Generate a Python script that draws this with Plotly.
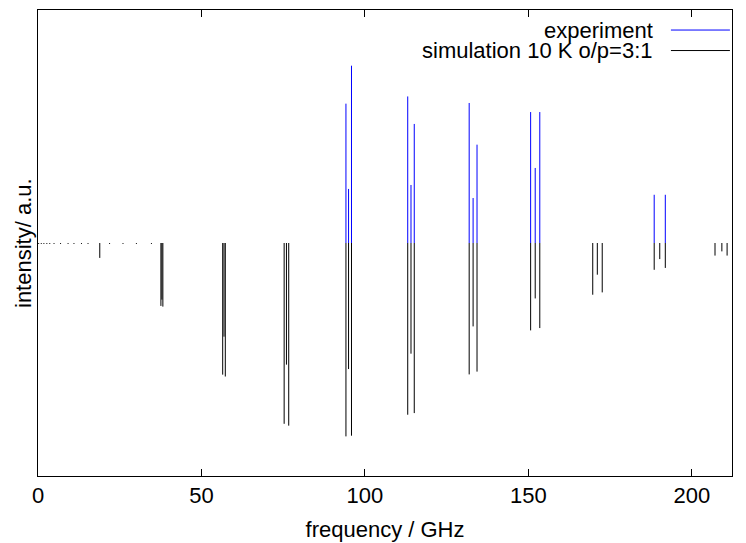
import plotly.graph_objects as go

# experiment (positive impulses)
exp_freq = [94.2, 95.0, 95.9, 113.1, 114.1, 115.1, 131.9, 133.1, 134.3,
            150.7, 152.1, 153.5, 188.5, 191.9]
exp_int = [0.598, 0.232, 0.761, 0.629, 0.249, 0.511, 0.601, 0.193, 0.422,
           0.562, 0.322, 0.562, 0.207, 0.207]

# simulation (negative impulses)
sim_freq = [0.2, 1.0, 1.8, 2.7, 3.6, 4.9, 6.9, 9.2, 11.0, 13.3, 15.3, 21.9, 26.0, 30.1, 34.7,
            18.9, 37.6, 37.9, 38.2, 56.5, 56.9, 57.3, 75.3, 76.0, 76.7,
            94.2, 95.0, 95.9, 113.1, 114.1, 115.1, 131.9, 133.1, 134.3,
            150.7, 152.1, 153.5, 169.7, 171.1, 172.6, 188.5, 190.2, 191.9,
            207.1, 209.2, 210.8]
sim_int = [-0.004] * 15 + [
           -0.064, -0.27, -0.243, -0.273, -0.565, -0.402, -0.573, -0.776, -0.522, -0.784,
           -0.830, -0.541, -0.827, -0.737, -0.475, -0.730, -0.564, -0.358, -0.552,
           -0.375, -0.238, -0.365, -0.222, -0.136, -0.212, -0.115, -0.069, -0.107,
           -0.054, -0.036, -0.054]

x_ticks = [0, 50, 100, 150, 200]
labels = ["experiment", "simulation 10 K o/p=3:1"]


def impulses(freqs, vals):
    xs, ys = [], []
    for f, v in zip(freqs, vals):
        xs += [f, f, None]
        ys += [0, v, None]
    return xs, ys


fig = go.Figure()
ex, ey = impulses(exp_freq, exp_int)
sx, sy = impulses(sim_freq, sim_int)
fig.add_trace(go.Scatter(x=ex, y=ey, mode="lines", line=dict(color="#0000ff", width=1),
                         name=labels[0], showlegend=False, hoverinfo="skip"))
fig.add_trace(go.Scatter(x=sx, y=sy, mode="lines", line=dict(color="#000000", width=1),
                         name=labels[1], showlegend=False, hoverinfo="skip"))

font = "Liberation Sans, Arial, sans-serif"
FS = 22
fig.update_layout(
    width=746, height=543,
    margin=dict(l=30, r=22, t=2, b=75),
    paper_bgcolor="white", plot_bgcolor="white",
    font=dict(family=font, size=FS, color="black"),
    showlegend=False,
    xaxis=dict(range=[0, 212.3], tickvals=x_ticks, ticktext=[str(t) for t in x_ticks],
               ticks="inside", ticklen=7, tickwidth=1, tickcolor="black",
               showline=True, linecolor="black", linewidth=1, mirror="ticks",
               showgrid=False, zeroline=False, automargin=False,
               title=dict(text="frequency / GHz", standoff=14, font=dict(size=FS)),
               tickfont=dict(size=FS)),
    yaxis=dict(range=[-1, 1], showticklabels=False, ticks="",
               showline=True, linecolor="black", linewidth=1, mirror=True,
               showgrid=False, zeroline=False, automargin=False),
)

fig.add_annotation(xref="paper", yref="paper", x=(15 - 30) / 694, y=0.5,
                   text="intensity/ a.u.", textangle=-90, showarrow=False,
                   xanchor="center", yanchor="middle",
                   font=dict(size=FS, family=font, color="black"))

legend_colors = ["#0000ff", "#000000"]
legend_y = [0.957, 0.913]
for lab, col, yy in zip(labels, legend_colors, legend_y):
    fig.add_annotation(xref="paper", yref="paper", x=0.889, y=yy, text=lab,
                       showarrow=False, xanchor="right", yanchor="middle",
                       font=dict(size=FS, family=font, color="black"))
    fig.add_shape(type="line", xref="paper", yref="paper",
                  x0=0.912, x1=0.997, y0=yy, y1=yy,
                  line=dict(color=col, width=1))

fig.write_html("out.html")
